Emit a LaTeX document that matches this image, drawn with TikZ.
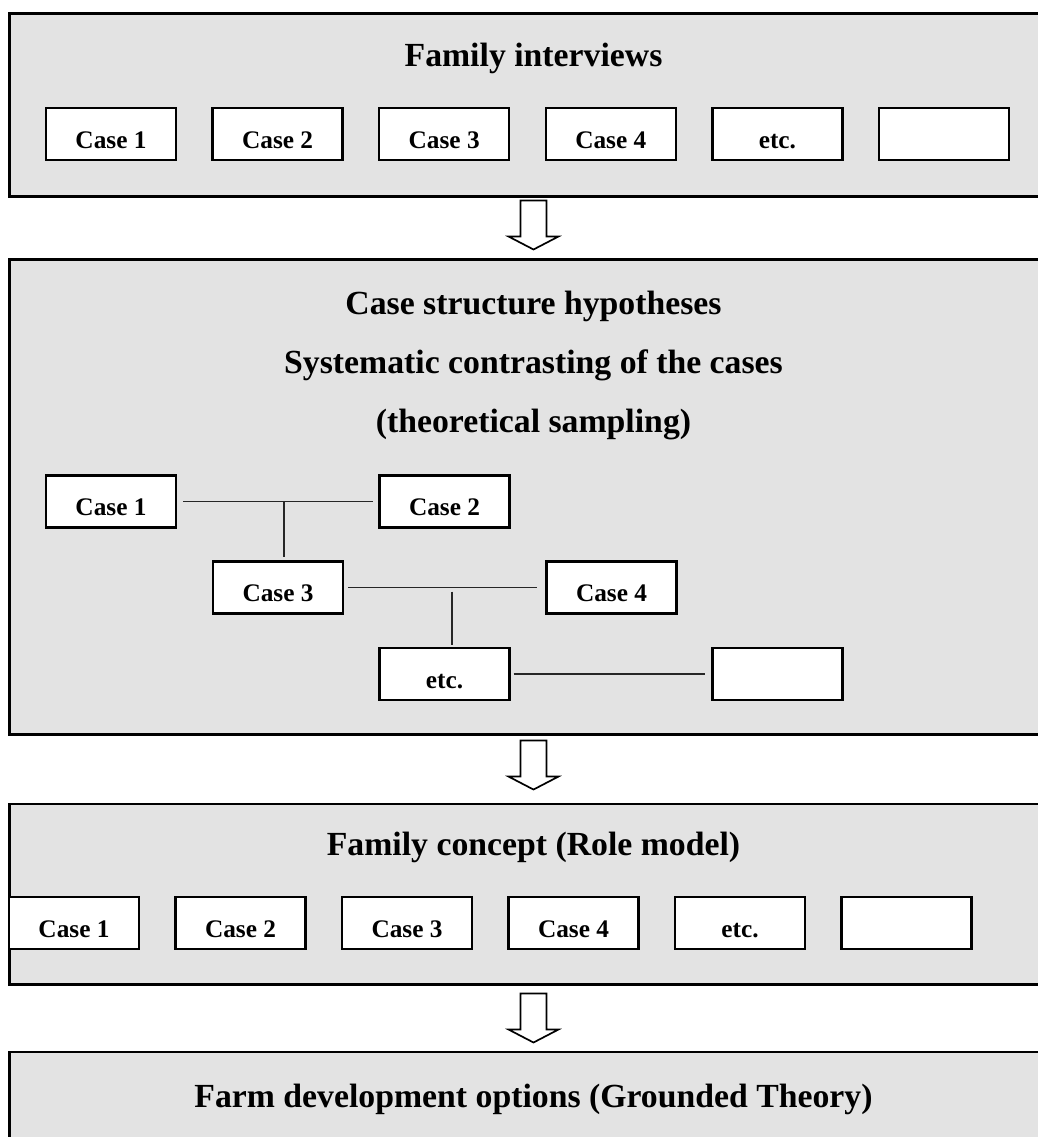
\documentclass[tikz,border=0pt]{standalone}
\usepackage{fontspec}
\setmainfont{Liberation Serif}
\usetikzlibrary{calc}
\definecolor{panelgray}{RGB}{227,227,227}
\tikzset{
	panel/.style={rectangle, draw=black, fill=panelgray, line width=2.1pt, minimum width=26.175cm, inner sep=0pt},
	heading/.style={anchor=base, inner sep=0pt, font=\fontsize{24}{28}\selectfont\bfseries},
	casebox/.style={rectangle, draw=black, fill=white, line width=1.7pt, minimum width=3.25cm, minimum height=1.3cm, inner sep=0pt, text height=20pt, text depth=0pt, font=\fontsize{18}{21}\selectfont\bfseries},
	link/.style={line width=1.3pt, draw=black!85},
	hollow/.style={draw=black, fill=white, line width=1.2pt, line join=miter},
}
\begin{document}
\begin{tikzpicture}[x=0.025cm, y=-0.025cm]
		\useasboundingbox (0,0) rectangle (1038,1137);
		\clip (0,0) rectangle (1038,1137);
		% the four stages
		\node[panel, minimum height=4.55cm] (interviews) at (533.5,105) {};
		\node[panel, minimum height=11.85cm] (contrast) at (533.5,497) {};
		\node[panel, minimum height=4.5cm] (concept) at (533.5,894) {};
		\node[panel, minimum height=4.5cm] (options) at (533.5,1142) {};
		\node[heading] (interviewstitle) at (533.5,67) {Family interviews};
		\node[heading] (hypotheses) at (533.5,314) {Case structure hypotheses};
		\node[heading] (contrasting) at (533.5,373) {Systematic contrasting of the cases};
		\node[heading] (sampling) at (533.5,432) {(theoretical sampling)};
		\node[heading] (concepttitle) at (533.5,855) {Family concept (Role model)};
		\node[heading] (optionstitle) at (533.5,1107) {Farm development options (Grounded Theory)};
		% case rows
		\foreach \lab [count=\i] in {Case 1,Case 2,Case 3,Case 4,etc.,{}}
			\node[casebox] (interview\i) at ({111+166.6*(\i-1)},134) {\lab};
		\foreach \lab [count=\i] in {Case 1,Case 2,Case 3,Case 4,etc.,{}}
			\node[casebox] (role\i) at ({74+166.5*(\i-1)},923) {\lab};
		% contrasting tree
		\node[casebox] (case1) at (111,501.5) {Case 1};
		\node[casebox] (case2) at (444.5,501.5) {Case 2};
		\node[casebox] (case3) at (278,587.5) {Case 3};
		\node[casebox] (case4) at (611.5,587.5) {Case 4};
		\node[casebox] (caseetc) at (444.5,674) {etc.};
		\node[casebox] (caseopen) at (777.5,674) {};
		\draw[link] ([xshift=0.15cm]case1.east) -- ([xshift=-0.125cm]case2.west);
		\draw[link] ($(case3.north |- case1.east)+(6,0)$) -- ($(case3.north)+(6,-3)$);
		\draw[link] ([xshift=0.1cm]case3.east) -- ([xshift=-0.2cm]case4.west);
		\draw[link] ($(caseetc.north |- case3.east)+(7.5,4)$) -- ($(caseetc.north)+(7.5,-2)$);
		\draw[link] ([xshift=0.075cm]caseetc.east) -- ([xshift=-0.15cm]caseopen.west);
		% hollow arrows between the stages
		\foreach \from/\gap in {interviews/3, contrast/5, concept/8} {
			\coordinate (tail) at ($(\from.south)+(0,\gap)$);
			\draw[hollow] ($(tail)+(-13,0)$) -- ++(0,36) -- ++(-12,0) -- ++(25,13) -- ++(25,-13) -- ++(-12,0) -- ++(0,-36) -- cycle;
		}
	\end{tikzpicture}
\end{document}
